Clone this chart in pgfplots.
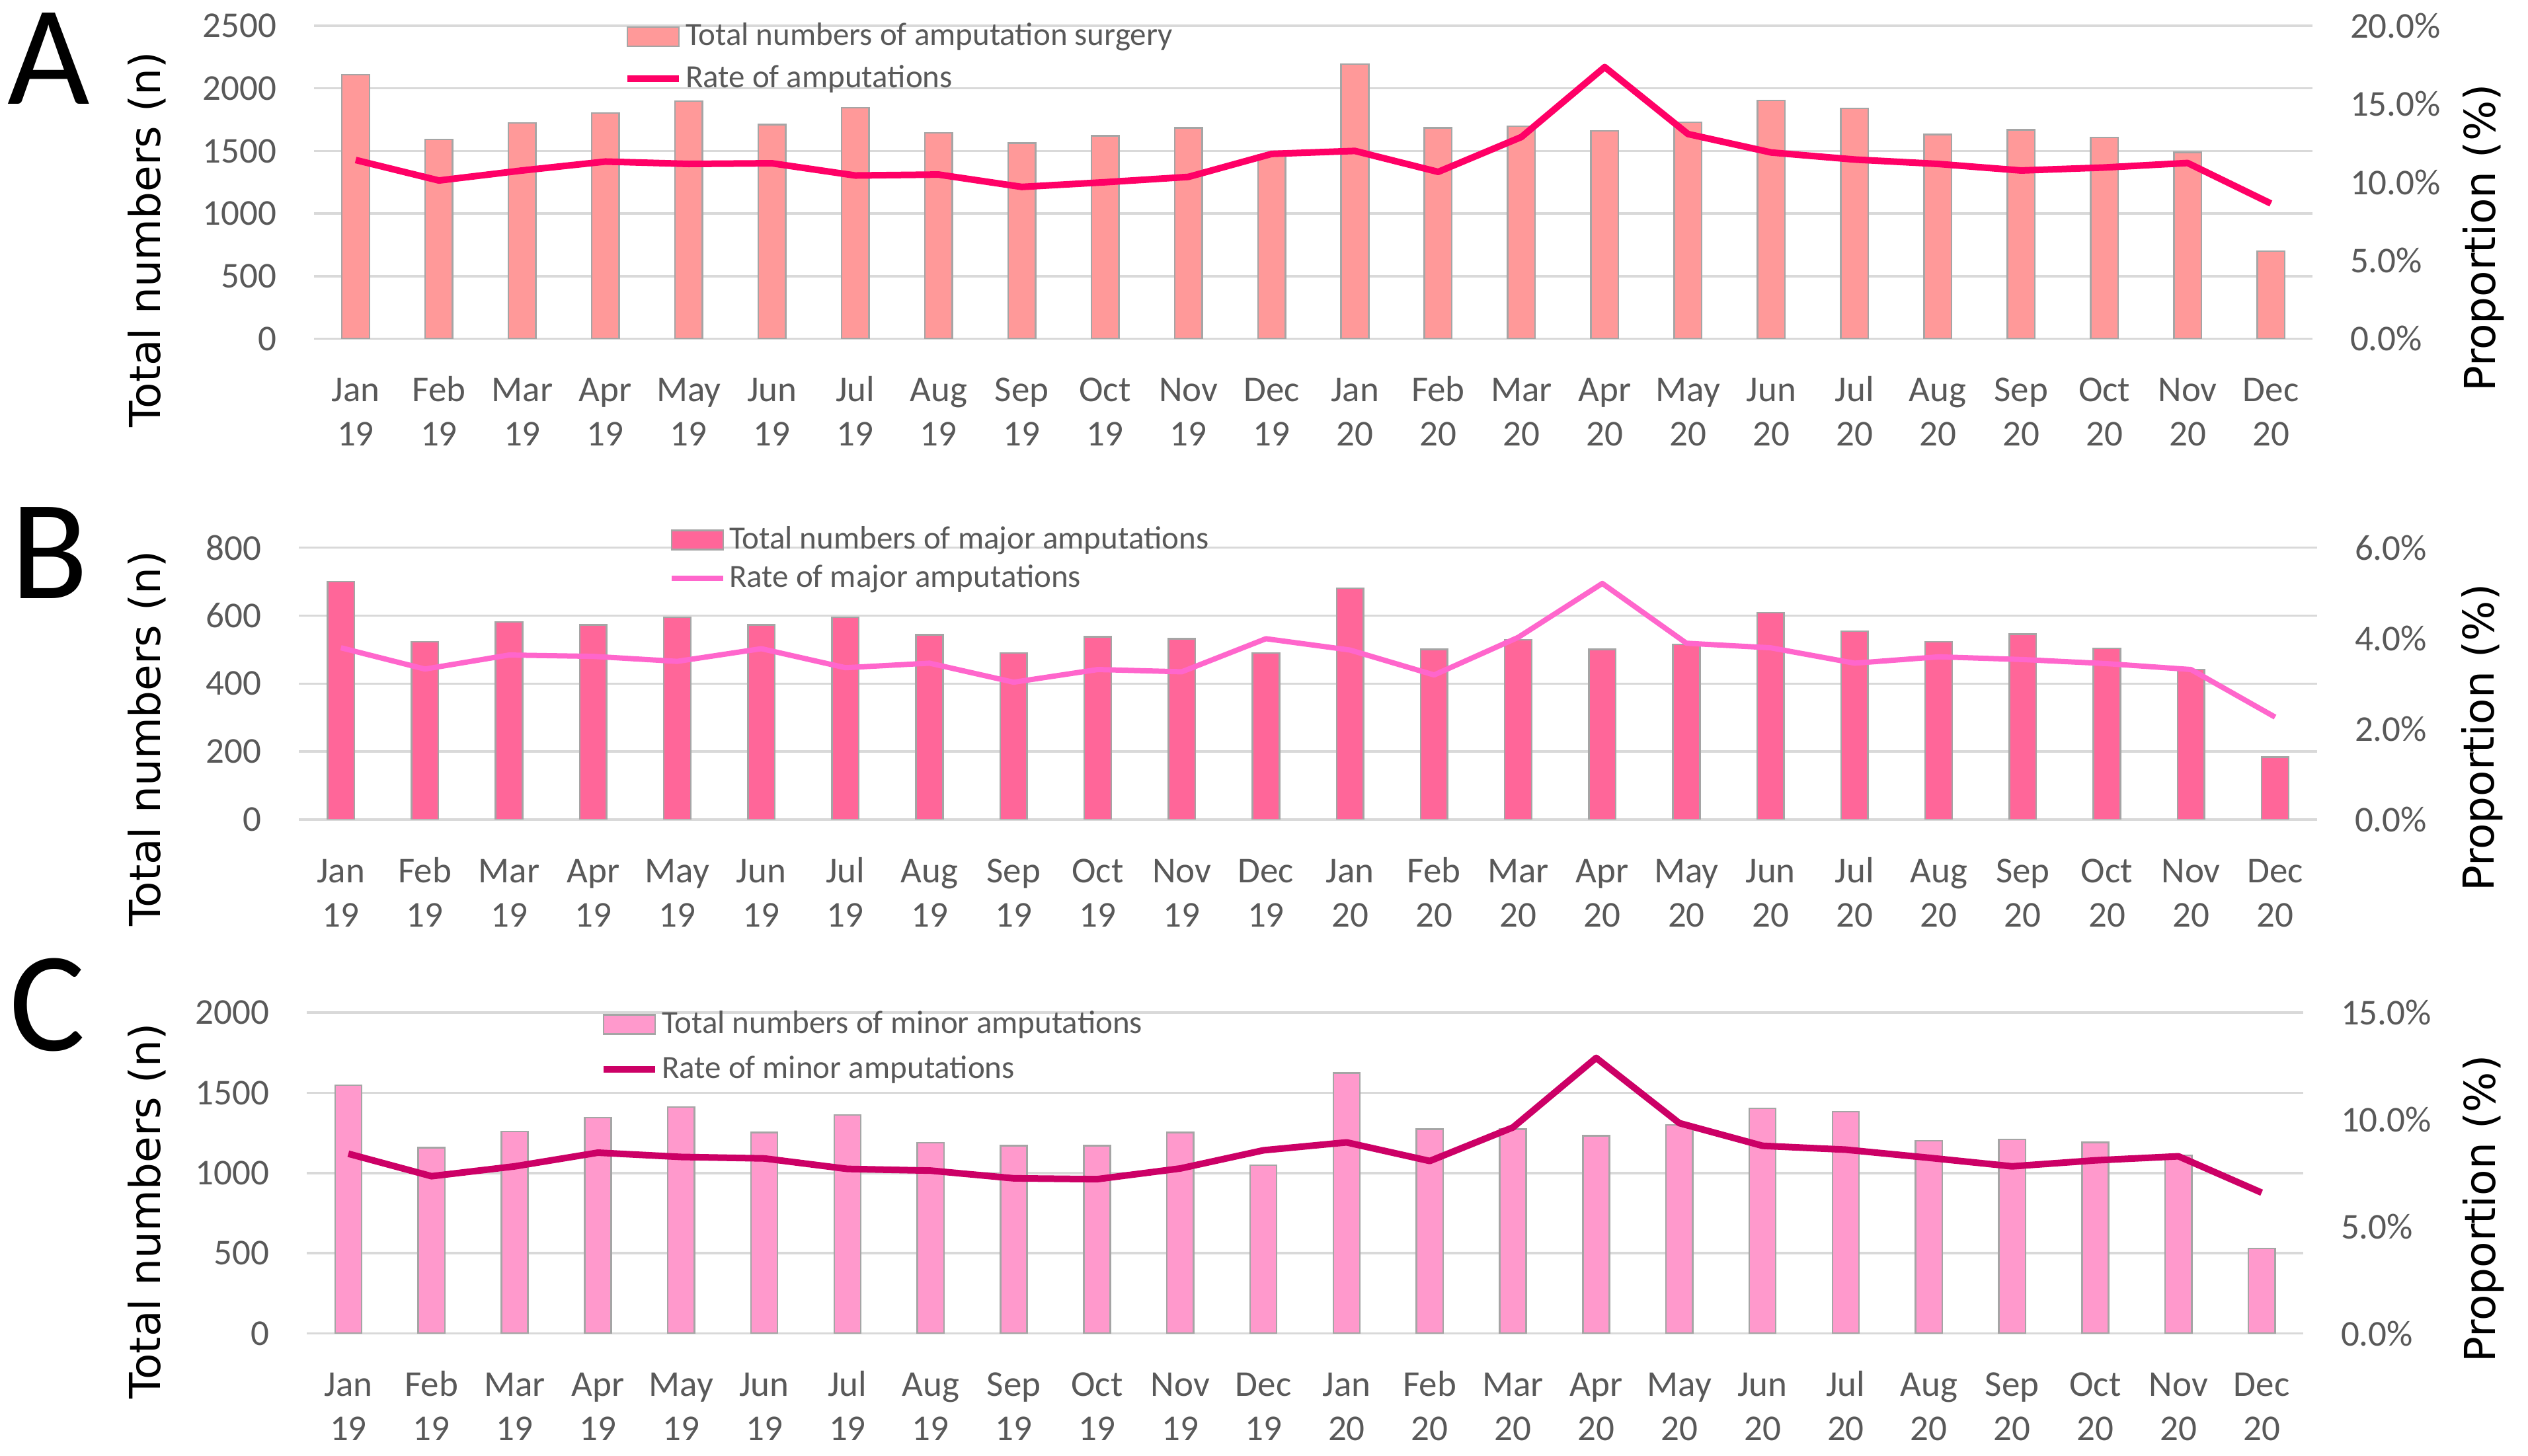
\documentclass[border=0pt]{standalone}
\usepackage{fontspec}
\setmainfont{Carlito}
\newfontfamily\dejavu{DejaVu Sans}
\usepackage{pgfplots}
\usepackage{pgfplotstable}
\pgfplotsset{compat=1.18}
\definecolor{tickgray}{HTML}{595959}
\definecolor{gridgray}{HTML}{D9D9D9}
\definecolor{edgegray}{HTML}{A5A5A5}
\definecolor{barA}{HTML}{FF9999}
\definecolor{lineA}{HTML}{FF0066}
\definecolor{barB}{HTML}{FF6699}
\definecolor{lineB}{HTML}{FF66CC}
\definecolor{barC}{HTML}{FF99CC}
\definecolor{lineC}{HTML}{CC0066}

\pgfplotstableread{
x bar rate
0 2110 11.42
1 1592 10.11
2 1724 10.75
3 1804 11.32
4 1898 11.17
5 1710 11.21
6 1846 10.43
7 1644 10.49
8 1563 9.70
9 1622 10.00
10 1684 10.34
11 1470 11.81
12 2193 12.00
13 1684 10.66
14 1698 12.89
15 1660 17.36
16 1728 13.08
17 1903 11.90
18 1839 11.45
19 1632 11.17
20 1669 10.75
21 1608 10.94
22 1490 11.23
23 700 8.64
}\dataA
\pgfplotstableread{
x bar rate
0 700 3.79
1 523 3.32
2 581 3.63
3 573 3.60
4 595 3.49
5 573 3.77
6 595 3.35
7 543 3.45
8 490 3.03
9 538 3.31
10 532 3.26
11 490 3.99
12 681 3.74
13 501 3.19
14 529 4.02
15 501 5.21
16 515 3.89
17 609 3.79
18 554 3.45
19 523 3.59
20 545 3.53
21 504 3.44
22 441 3.31
23 184 2.26
}\dataB
\pgfplotstableread{
x bar rate
0 1546 8.40
1 1157 7.35
2 1259 7.81
3 1345 8.45
4 1411 8.25
5 1252 8.18
6 1362 7.69
7 1189 7.61
8 1170 7.25
9 1170 7.21
10 1252 7.71
11 1048 8.56
12 1624 8.93
13 1273 8.06
14 1273 9.63
15 1231 12.88
16 1299 9.83
17 1402 8.77
18 1383 8.59
19 1200 8.21
20 1210 7.81
21 1191 8.09
22 1111 8.28
23 530 6.58
}\dataC

\pgfplotsset{
  base/.style={
    scale only axis,
    anchor=south west,
    xmin=-0.5, xmax=23.5,
    axis line style={draw=none},
    major tick length=0pt,
    tick label style={font=\fontsize{11}{13.4}\selectfont, text=tickgray},
    /pgf/number format/assume math mode=true,
    /pgf/number format/1000 sep={},
    label style={font=\dejavu\fontsize{12.9}{15}\selectfont, text=black},
  },
  leftax/.style={
    base,
    xtick={0,...,23},
    xticklabels={{\strut Jan\\19},{\strut Feb\\19},{\strut Mar\\19},{\strut Apr\\19},{\strut May\\19},{\strut Jun\\19},{\strut Jul\\19},{\strut Aug\\19},{\strut Sep\\19},{\strut Oct\\19},{\strut Nov\\19},{\strut Dec\\19},{\strut Jan\\20},{\strut Feb\\20},{\strut Mar\\20},{\strut Apr\\20},{\strut May\\20},{\strut Jun\\20},{\strut Jul\\20},{\strut Aug\\20},{\strut Sep\\20},{\strut Oct\\20},{\strut Nov\\20},{\strut Dec\\20}},
    xticklabel style={align=center, anchor=north, inner sep=0pt, yshift=-9.5pt},
    yticklabel style={anchor=east, inner sep=0pt, xshift=-11.2pt},
    ymajorgrids,
    grid style={color=gridgray, line width=0.7pt},
    ylabel={Total numbers (n)},
  },
  rightax/.style={
    base,
    axis x line=none,
    axis y line*=right,
    yticklabel style={anchor=west, inner sep=0pt, xshift=11.2pt},
    yticklabel={\pgfmathprintnumber[fixed,fixed zerofill,precision=1]{\tick}\%},
    ylabel={Proportion (\%)},
    legend cell align=left,
    legend style={draw=none, fill=none, anchor=north west, inner sep=0pt, outer sep=0pt,
      font=\fontsize{9.8}{11}\selectfont, text=tickgray,
      nodes={inner sep=0pt}, column sep=1pt},
  },
  barlegend/.style={legend image code/.code={\draw[##1] (0pt,-2.9pt) rectangle (15.6pt,2.9pt);}},
  linelegend/.style={legend image code/.code={\draw[##1] (0pt,0pt) -- (15.6pt,0pt);}},
}

\begin{document}
\begin{tikzpicture}
\useasboundingbox (0,0) rectangle (764.8pt,440.6pt);

% ---------------- Panel A
\begin{axis}[leftax, at={(95pt,338.1pt)}, width=604.6pt, height=94.7pt,
  ymin=0, ymax=2500, ytick={0,500,...,2500},
  ylabel style={at={(axis description cs:-0.0837,0.316)}, anchor=center}]
\addplot[ybar, bar width=0.33, fill=barA, draw=edgegray, line width=0.5pt] table[x=x,y=bar] {\dataA};
\end{axis}
\begin{axis}[rightax, at={(95pt,338.1pt)}, width=604.6pt, height=94.7pt,
  ymin=0, ymax=20, ytick={0,5,...,20},
  ylabel style={at={(axis description cs:1.0857,0.322)}, anchor=center},
  legend style={at={(axis description cs:0,1)}, xshift=93.8pt, yshift=0.85pt, row sep=4.5pt}]
\addlegendimage{barlegend, fill=barA, draw=edgegray, line width=0.5pt}
\addlegendentry{Total numbers of amputation surgery}
\addplot[linelegend, color=lineA, line width=2pt, line join=round] table[x=x,y=rate] {\dataA};
\addlegendentry{Rate of amputations}
\end{axis}

% ---------------- Panel B
\begin{axis}[leftax, at={(90.4pt,192.6pt)}, width=610.6pt, height=82.28pt,
  ymin=0, ymax=800, ytick={0,200,...,800},
  ylabel style={at={(axis description cs:-0.0753,0.297)}, anchor=center}]
\addplot[ybar, bar width=0.32, fill=barB, draw=edgegray, line width=0.5pt] table[x=x,y=bar] {\dataB};
\end{axis}
\begin{axis}[rightax, at={(90.4pt,192.6pt)}, width=610.6pt, height=82.28pt,
  ymin=0, ymax=6, ytick={0,2,...,6},
  ylabel style={at={(axis description cs:1.0819,0.301)}, anchor=center},
  legend style={at={(axis description cs:0,1)}, xshift=112pt, yshift=6.45pt, row sep=3.3pt}]
\addlegendimage{barlegend, fill=barB, draw=edgegray, line width=0.5pt}
\addlegendentry{Total numbers of major amputations}
\addplot[linelegend, color=lineB, line width=1.6pt, line join=round] table[x=x,y=rate] {\dataB};
\addlegendentry{Rate of major amputations}
\end{axis}

% ---------------- Panel C
\begin{axis}[leftax, at={(92.8pt,37.08pt)}, width=604pt, height=97.12pt,
  ymin=0, ymax=2000, ytick={0,500,...,2000},
  ylabel style={at={(axis description cs:-0.0801,0.382)}, anchor=center}]
\addplot[ybar, bar width=0.32, fill=barC, draw=edgegray, line width=0.5pt] table[x=x,y=bar] {\dataC};
\end{axis}
\begin{axis}[rightax, at={(92.8pt,37.08pt)}, width=604pt, height=97.12pt,
  ymin=0, ymax=15, ytick={0,5,...,15},
  ylabel style={at={(axis description cs:1.0904,0.388)}, anchor=center},
  legend style={at={(axis description cs:0,1)}, xshift=88.8pt, yshift=0.55pt, row sep=5.4pt}]
\addlegendimage{barlegend, fill=barC, draw=edgegray, line width=0.5pt}
\addlegendentry{Total numbers of minor amputations}
\addplot[linelegend, color=lineC, line width=2pt, line join=round] table[x=x,y=rate] {\dataC};
\addlegendentry{Rate of minor amputations}
\end{axis}

% panel letters
\node[anchor=base, inner sep=0pt, font=\fontsize{43}{45}\selectfont] at (14.8pt,409pt) {A};
\node[anchor=base, inner sep=0pt, font=\fontsize{43}{45}\selectfont] at (15pt,259.4pt) {B};
\node[anchor=base, inner sep=0pt, font=\fontsize{43}{45}\selectfont] at (14.4pt,122.6pt) {C};
\end{tikzpicture}
\end{document}
